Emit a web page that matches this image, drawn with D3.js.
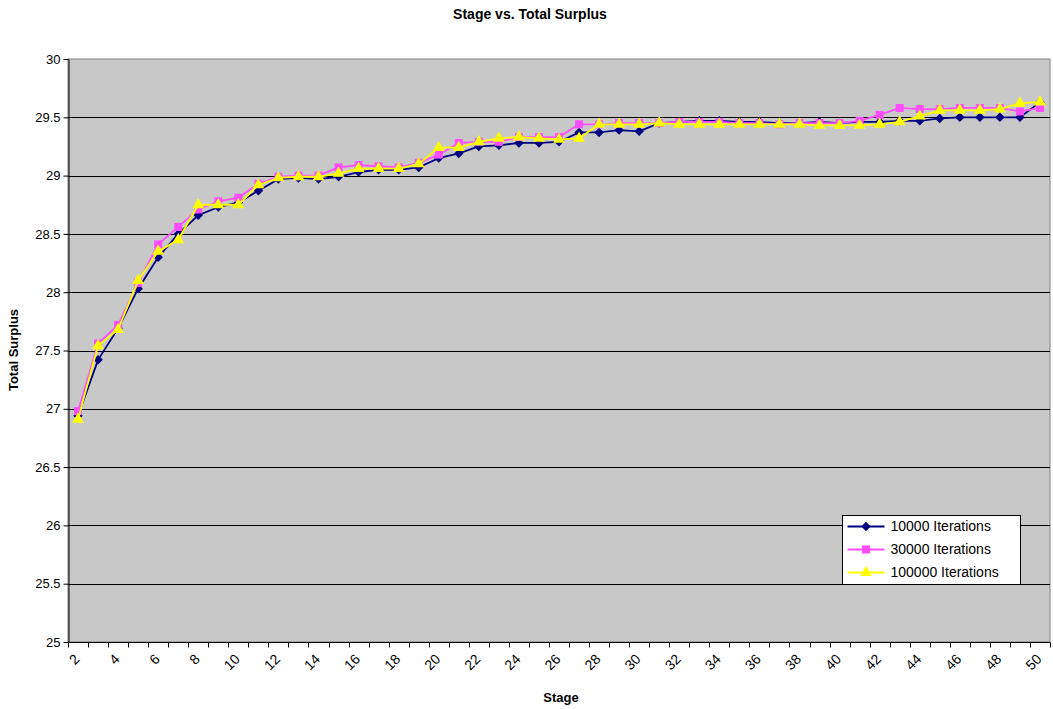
<!DOCTYPE html>
<html>
<head>
<meta charset="utf-8">
<script src="https://cdn.jsdelivr.net/npm/d3@7"></script>
<style>
  body { margin: 0; background: #fff; }
  svg { display: block; font-family: Arial, "Liberation Sans", sans-serif; }
</style>
</head>
<body>
<div id="chart"></div>
<script>
const stages = d3.range(2, 51);

const iter10000 = [26.94, 27.42, 27.69, 28.03, 28.30, 28.50, 28.66, 28.73, 28.77, 28.87,
  28.97, 28.98, 28.97, 28.99, 29.03, 29.05, 29.05, 29.07, 29.15, 29.19,
  29.25, 29.26, 29.28, 29.28, 29.29, 29.37, 29.37, 29.39, 29.38, 29.45,
  29.46, 29.47, 29.47, 29.46, 29.46, 29.45, 29.45, 29.46, 29.45, 29.46,
  29.46, 29.47, 29.47, 29.49, 29.50, 29.50, 29.50, 29.50, 29.63];

const iter30000 = [26.98, 27.56, 27.72, 28.08, 28.41, 28.56, 28.71, 28.78, 28.81, 28.93,
  28.99, 29.00, 29.00, 29.07, 29.09, 29.08, 29.07, 29.11, 29.18, 29.28,
  29.29, 29.29, 29.33, 29.33, 29.33, 29.44, 29.44, 29.45, 29.45, 29.45,
  29.46, 29.46, 29.46, 29.45, 29.45, 29.44, 29.45, 29.45, 29.45, 29.47,
  29.52, 29.58, 29.57, 29.57, 29.58, 29.58, 29.58, 29.55, 29.58];

const iter100000 = [26.91, 27.54, 27.68, 28.10, 28.35, 28.45, 28.75, 28.75, 28.75, 28.92,
  28.98, 28.99, 28.99, 29.02, 29.06, 29.06, 29.06, 29.10, 29.24, 29.24,
  29.29, 29.32, 29.33, 29.32, 29.31, 29.32, 29.44, 29.44, 29.44, 29.45,
  29.44, 29.44, 29.44, 29.44, 29.44, 29.44, 29.44, 29.43, 29.43, 29.43,
  29.44, 29.46, 29.51, 29.56, 29.56, 29.56, 29.57, 29.62, 29.63];

const seriesNames = ["10000 Iterations", "30000 Iterations", "100000 Iterations"];
const yTicks = [25, 25.5, 26, 26.5, 27, 27.5, 28, 28.5, 29, 29.5, 30];

// excel style diamond = square turned 45deg
const diamond = { draw(ctx, size) { const r = Math.sqrt(size) / 2;
  ctx.moveTo(0, -r); ctx.lineTo(r, 0); ctx.lineTo(0, r); ctx.lineTo(-r, 0); ctx.closePath(); } };

const series = [
  { name: seriesNames[0], values: iter10000, color: "#000080", shape: diamond, size: 90 },
  { name: seriesNames[1], values: iter30000, color: "#ff4dff", shape: d3.symbolSquare, size: 64 },
  { name: seriesNames[2], values: iter100000, color: "#ffff00", shape: d3.symbolTriangle, size: 60 }
];

const width = 1053, height = 709,
  margin = ({ top: 59, right: 3, bottom: 67, left: 68 });

const svg = d3.select("#chart")
  .append("svg")
  .attr("width", width)
  .attr("height", height);

const x = d3.scaleBand()
  .domain(stages)
  .range([margin.left, width - margin.right]);

const y = d3.scaleLinear()
  .domain([25, 30])
  .range([height - margin.bottom, margin.top]);

// plot area
svg.append("rect")
  .attr("x", margin.left)
  .attr("y", margin.top)
  .attr("width", width - margin.right - margin.left)
  .attr("height", height - margin.bottom - margin.top)
  .attr("fill", "#c8c8c8")
  .attr("stroke", "#808080");

// gridlines
svg.append("g")
  .selectAll("line")
  .data(yTicks.slice(1, -1))
  .join("line")
  .attr("x1", margin.left)
  .attr("x2", width - margin.right)
  .attr("y1", d => Math.round(y(d)) + 0.5)
  .attr("y2", d => Math.round(y(d)) + 0.5)
  .attr("stroke", "#000");

// y axis
const yAxis = svg.append("g")
  .attr("transform", `translate(${margin.left + 0.5},0)`)
  .call(d3.axisLeft(y).tickValues(yTicks).tickSize(5).tickSizeOuter(0).tickPadding(3).tickFormat(d3.format("")));
yAxis.select(".domain").attr("stroke", "#000");
yAxis.selectAll("text").attr("font-size", 13).attr("fill", "#000")
  .attr("font-family", "Arial, 'Liberation Sans', sans-serif");

// x axis line + ticks at category boundaries
const xBase = Math.round(y(25)) + 0.5;
svg.append("line")
  .attr("x1", margin.left).attr("x2", width - margin.right)
  .attr("y1", xBase).attr("y2", xBase)
  .attr("stroke", "#000");

const bounds = stages.map(s => x(s)).concat([x(stages[stages.length - 1]) + x.bandwidth()]);
svg.append("g")
  .selectAll("line")
  .data(bounds)
  .join("line")
  .attr("x1", d => Math.round(d) + 0.5)
  .attr("x2", d => Math.round(d) + 0.5)
  .attr("y1", xBase)
  .attr("y2", xBase + 5)
  .attr("stroke", "#000");

svg.append("g")
  .selectAll("text")
  .data(stages.filter(s => s % 2 === 0))
  .join("text")
  .attr("transform", d => `translate(${x(d) + x.bandwidth() / 2 - 1},${xBase + 14}) rotate(-45)`)
  .attr("text-anchor", "end")
  .attr("dy", "0.35em")
  .attr("font-size", 14)
  .text(d => d);

// lines and markers
const line = d3.line()
  .x((d, i) => x(stages[i]) + x.bandwidth() / 2)
  .y(d => y(d));

for (let s of series) {
  const g = svg.append("g");
  g.append("path")
    .datum(s.values)
    .attr("fill", "none")
    .attr("stroke", s.color)
    .attr("stroke-width", 1.8)
    .attr("d", line);
  g.selectAll("path.marker")
    .data(s.values)
    .join("path")
    .attr("class", "marker")
    .attr("transform", (d, i) => `translate(${x(stages[i]) + x.bandwidth() / 2},${y(d)})`)
    .attr("d", d3.symbol(s.shape, s.size))
    .attr("fill", s.color);
}

// legend
const legend = svg.append("g").attr("transform", "translate(842.5,515.5)");
legend.append("rect")
  .attr("width", 178)
  .attr("height", 69)
  .attr("fill", "#fff")
  .attr("stroke", "#000");

const item = legend.selectAll(".item")
  .data(series)
  .join("g")
  .attr("class", "item")
  .attr("transform", (d, i) => `translate(0,${11 + i * 23})`);

item.append("line")
  .attr("x1", 5).attr("x2", 42)
  .attr("stroke", d => d.color)
  .attr("stroke-width", 1.8);
item.append("path")
  .attr("transform", "translate(23.5,0)")
  .attr("d", d => d3.symbol(d.shape, d.size)())
  .attr("fill", d => d.color);
item.append("text")
  .attr("x", 48)
  .attr("dy", "0.35em")
  .attr("font-size", 14)
  .text(d => d.name);

// titles
svg.append("text")
  .attr("x", 530)
  .attr("y", 19)
  .attr("text-anchor", "middle")
  .attr("font-size", 14)
  .attr("font-weight", "bold")
  .text("Stage vs. Total Surplus");

svg.append("text")
  .attr("x", 561)
  .attr("y", 702)
  .attr("text-anchor", "middle")
  .attr("font-size", 13)
  .attr("font-weight", "bold")
  .text("Stage");

svg.append("text")
  .attr("transform", "translate(18,350) rotate(-90)")
  .attr("text-anchor", "middle")
  .attr("font-size", 13)
  .attr("font-weight", "bold")
  .text("Total Surplus");
</script>
</body>
</html>
